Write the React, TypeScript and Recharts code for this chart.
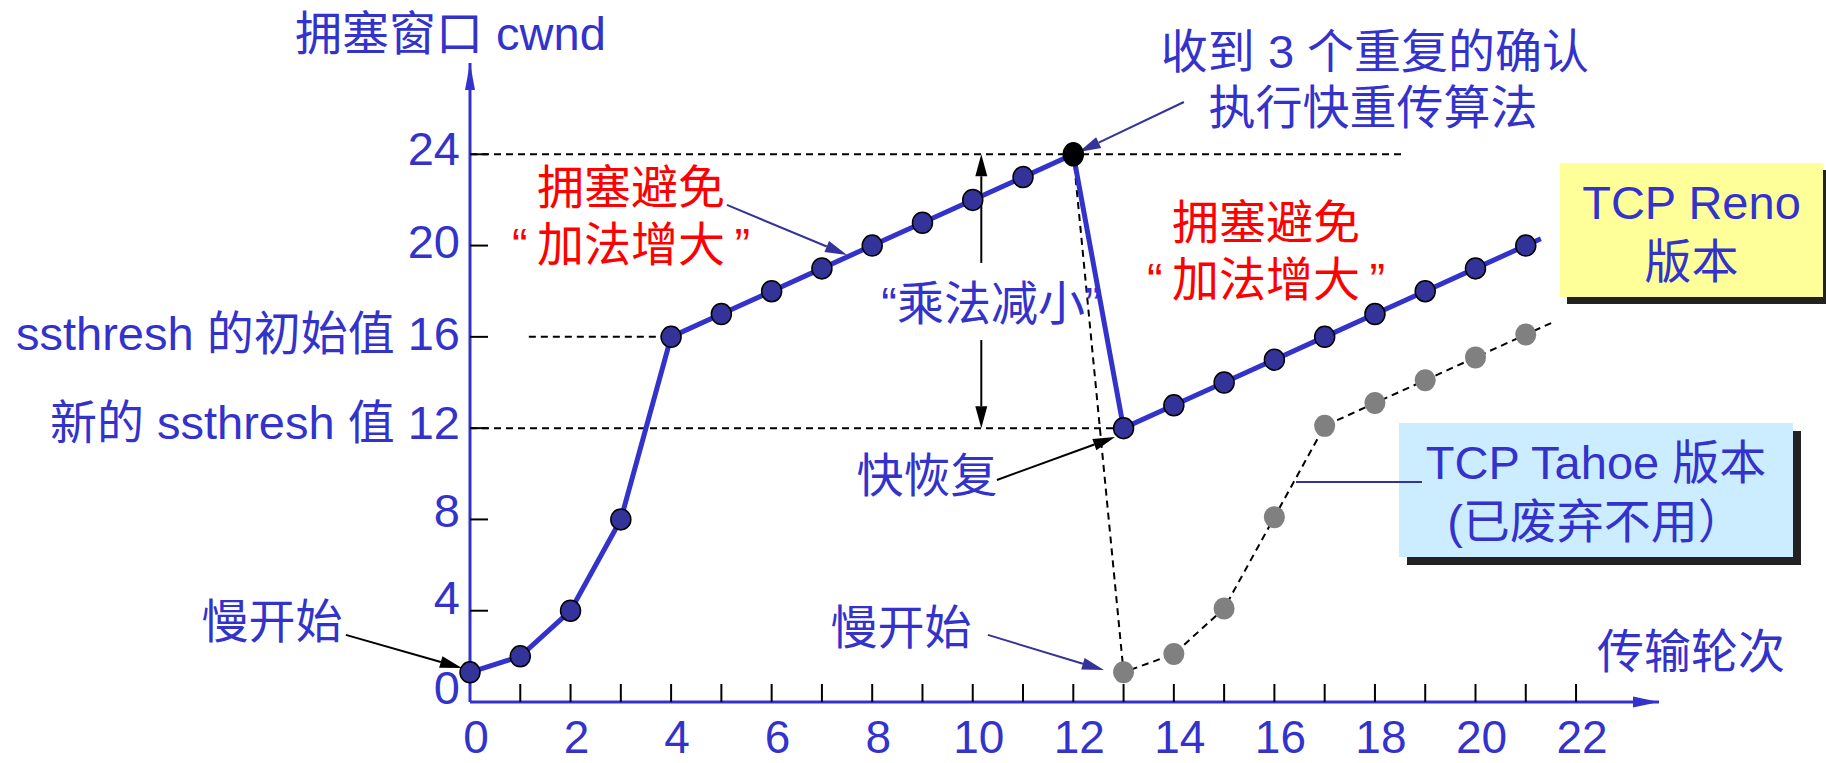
import { LineChart, Line, XAxis, YAxis, ReferenceLine } from "recharts";

const FONT = "'Liberation Sans', 'Noto Sans CJK SC', sans-serif";
const BLUE = "#3333CC";
const NAVY = "#333399";
const RED = "#FF0000";

// transmission rounds and cwnd values
const rounds = [0, 1, 2, 3, 4, 5, 6, 7, 8, 9, 10, 11, 12, 13, 14, 15, 16, 17, 18, 19, 20, 21];
const renoCwnd = [1.3, 2, 4, 8, 16, 17, 18, 19, 20, 21, 22, 23, 24, 12, 13, 14, 15, 16, 17, 18, 19, 20];
const tahoeCwnd = [
  null, null, null, null, null, null, null, null, null, null, null, null,
  24, 1.3, 2.1, 4.1, 8.1, 12.1, 13.1, 14.1, 15.1, 16.1,
];
// the lines run on a little past the last round
const renoTail = { x: 21.3, y: 20.3 };
const tahoeTail = { x: 21.55, y: 16.65 };

const xTicks = [0, 1, 2, 3, 4, 5, 6, 7, 8, 9, 10, 11, 12, 13, 14, 15, 16, 17, 18, 19, 20, 21, 22];
const yTicks = [0, 4, 8, 12, 16, 20, 24];
const yTickNames: Record<number, string> = {
  16: "ssthresh 的初始值 16",
  12: "新的 ssthresh 值 12",
};
const yLabelShift: Record<number, number> = { 0: -15, 4: -14, 8: -9, 12: -6, 16: -4, 20: -5, 24: -6 };

const initialSsthresh = 16;
const peakCwnd = 24;
const newSsthresh = 12;

const data: any[] = rounds.map((x, i) => ({ x, reno: renoCwnd[i], tahoe: tahoeCwnd[i] }));
data.push({ x: renoTail.x, reno: renoTail.y });
data.push({ x: tahoeTail.x, tahoe: tahoeTail.y });

const arrowShape = (color: string, len = 22, half = 6, width = 2) => (p: any) => {
  const { x1, y1, x2, y2 } = p;
  const a = Math.atan2(y2 - y1, x2 - x1);
  const c = Math.cos(a);
  const s = Math.sin(a);
  const bx = x2 - len * c;
  const by = y2 - len * s;
  return (
    <g>
      <line x1={x1} y1={y1} x2={bx} y2={by} stroke={color} strokeWidth={width} />
      <polygon
        points={`${x2},${y2} ${bx - half * s},${by + half * c} ${bx + half * s},${by - half * c}`}
        fill={color}
      />
    </g>
  );
};

// annotation arrows, in data units
const arrows = [
  { from: { x: -2.47, y: 2.94 }, to: { x: -0.16, y: 1.49 }, color: "#000" },
  { from: { x: 5.11, y: 21.78 }, to: { x: 7.5, y: 19.59 }, color: NAVY },
  { from: { x: 14.2, y: 26.29 }, to: { x: 12.11, y: 24.1 }, color: NAVY },
  { from: { x: 10.17, y: 19.24 }, to: { x: 10.17, y: 24 }, color: "#000" },
  { from: { x: 10.17, y: 15.86 }, to: { x: 10.17, y: 12 }, color: "#000" },
  { from: { x: 10.48, y: 9.73 }, to: { x: 12.83, y: 11.61 }, color: "#000" },
  { from: { x: 10.3, y: 2.94 }, to: { x: 12.61, y: 1.4 }, color: NAVY },
];

const XTick = (props: any) => {
  const { x, y, payload } = props;
  const v = payload.value;
  return (
    <g>
      {v > 0 && <line x1={x} y1={y - 18} x2={x} y2={y} stroke="#000" strokeWidth={2} />}
      {v % 2 === 0 && (
        <text x={x + 6} y={y + 51} textAnchor="middle" fill={BLUE} fontSize={46} fontFamily={FONT}>
          {v}
        </text>
      )}
    </g>
  );
};

const YTick = (props: any) => {
  const { x, y, payload } = props;
  const v = payload.value;
  return (
    <g>
      {v > 0 && <line x1={x} y1={y} x2={x + 18} y2={y} stroke="#000" strokeWidth={2} />}
      <text
        x={x - 10}
        y={y + (yLabelShift[v] ?? -6) + 17}
        textAnchor="end"
        fill={BLUE}
        fontSize={47}
        fontFamily={FONT}
      >
        {yTickNames[v] ?? String(v)}
      </text>
    </g>
  );
};

const renoDot = (props: any) => {
  const { cx, cy, payload, index } = props;
  if (cx == null || !Number.isInteger(payload.x)) return <g key={`r${index}`} />;
  return (
    <ellipse
      key={`r${index}`}
      cx={cx}
      cy={cy}
      rx={10}
      ry={payload.x === 12 ? 11.5 : 10.5}
      fill={payload.x === 12 ? "#000" : NAVY}
      stroke="#000"
      strokeWidth={1.5}
    />
  );
};

const tahoeDot = (props: any) => {
  const { cx, cy, payload, index } = props;
  if (cx == null || payload.tahoe == null || !Number.isInteger(payload.x) || payload.x === 12)
    return <g key={`t${index}`} />;
  return <ellipse key={`t${index}`} cx={cx} cy={cy} rx={10.5} ry={11} fill="#808080" />;
};

const Txt = ({ x, y, color = BLUE, left = false, children }: any) => (
  <div
    style={{
      position: "absolute",
      left: x,
      top: y,
      transform: left ? "translate(0,-50%)" : "translate(-50%,-50%)",
      color,
      fontSize: 47,
      lineHeight: 1,
      fontFamily: FONT,
      whiteSpace: "nowrap",
    }}
  >
    {children}
  </div>
);

const Box = ({ x, y, w, h, bg, shadow, lines }: any) => (
  <div
    style={{
      position: "absolute",
      left: x,
      top: y,
      width: w,
      height: h,
      background: bg,
      boxShadow: `${shadow}px ${shadow}px 0 #222`,
      display: "flex",
      flexDirection: "column",
      alignItems: "center",
      justifyContent: "center",
      paddingTop: 4,
      boxSizing: "border-box",
      color: BLUE,
      fontSize: 47,
      lineHeight: "59px",
      fontFamily: FONT,
      whiteSpace: "nowrap",
    }}
  >
    {lines.map((l: string) => (
      <div key={l}>{l}</div>
    ))}
  </div>
);

export default function App() {
  return (
    <div style={{ position: "absolute", left: 0, top: 0, width: 1826, height: 763, background: "#fff" }}>
      <LineChart width={1826} height={763} data={data} margin={{ top: 63, right: 167, bottom: 0, left: 0 }}>
        <XAxis
          type="number"
          dataKey="x"
          domain={[0, 23.65]}
          ticks={xTicks}
          interval={0}
          height={61}
          tickSize={0}
          tickMargin={0}
          tickLine={false}
          axisLine={{ stroke: BLUE, strokeWidth: 3 }}
          tick={<XTick />}
        />
        <YAxis
          type="number"
          domain={[0, 28]}
          ticks={yTicks}
          interval={0}
          width={470}
          tickSize={0}
          tickMargin={0}
          tickLine={false}
          axisLine={{ stroke: BLUE, strokeWidth: 3 }}
          tick={<YTick />}
        />
        <ReferenceLine
          segment={[{ x: 0, y: peakCwnd }, { x: 18.6, y: peakCwnd }]}
          stroke="#000"
          strokeWidth={2}
          strokeDasharray="7 5"
          ifOverflow="visible"
        />
        <ReferenceLine
          segment={[{ x: 1.17, y: initialSsthresh }, { x: 4, y: initialSsthresh }]}
          stroke="#000"
          strokeWidth={2}
          strokeDasharray="7 5"
          ifOverflow="visible"
        />
        <ReferenceLine
          segment={[{ x: 0, y: newSsthresh }, { x: 12.8, y: newSsthresh }]}
          stroke="#000"
          strokeWidth={2}
          strokeDasharray="7 5"
          ifOverflow="visible"
        />
        <Line
          dataKey="tahoe"
          stroke="none"
          connectNulls
          dot={tahoeDot}
          activeDot={false}
          isAnimationActive={false}
        />
        <Line
          dataKey="tahoe"
          stroke="#000"
          strokeWidth={2}
          strokeDasharray="7 5"
          connectNulls
          dot={false}
          activeDot={false}
          isAnimationActive={false}
        />
        <Line
          dataKey="reno"
          stroke={BLUE}
          strokeWidth={5}
          dot={renoDot}
          activeDot={false}
          isAnimationActive={false}
        />
        {arrows.map((a, i) => (
          <ReferenceLine
            key={i}
            segment={[a.from, a.to]}
            ifOverflow="visible"
            shape={arrowShape(a.color)}
          />
        ))}
        <ReferenceLine
          segment={[{ x: 23.13, y: 0 }, { x: 23.65, y: 0 }]}
          ifOverflow="visible"
          shape={arrowShape(BLUE, 26, 5.5)}
        />
        <ReferenceLine
          segment={[{ x: 0, y: 26.82 }, { x: 0, y: 28 }]}
          ifOverflow="visible"
          shape={arrowShape(BLUE, 27, 5)}
        />
      </LineChart>

      <Txt x={295} y={33} left>拥塞窗口 cwnd</Txt>
      <Txt x={1691} y={651}>传输轮次</Txt>
      <Txt x={631} y={187} color={RED}>拥塞避免</Txt>
      <Txt x={631} y={244} color={RED}>“{"\u2009"}加法增大{"\u2009"}”</Txt>
      <Txt x={1266} y={222} color={RED}>拥塞避免</Txt>
      <Txt x={1266} y={279} color={RED}>“{"\u2009"}加法增大{"\u2009"}”</Txt>
      <Txt x={991} y={303}>“乘法减小”</Txt>
      <Txt x={1375} y={51}>收到 3 个重复的确认</Txt>
      <Txt x={1373} y={107}>执行快重传算法</Txt>
      <Txt x={927} y={475}>快恢复</Txt>
      <Txt x={272} y={621}>慢开始</Txt>
      <Txt x={901} y={627}>慢开始</Txt>

      <Box x={1560} y={163} w={263} h={134} bg="#FFFF99" shadow={7} lines={["TCP Reno", "版本"]} />
      <Box x={1399} y={423} w={394} h={134} bg="#CCECFF" shadow={8} lines={["TCP Tahoe 版本", "(已废弃不用）"]} />
      <div style={{ position: "absolute", left: 1296, top: 481, width: 126, height: 2, background: NAVY }} />
    </div>
  );
}
